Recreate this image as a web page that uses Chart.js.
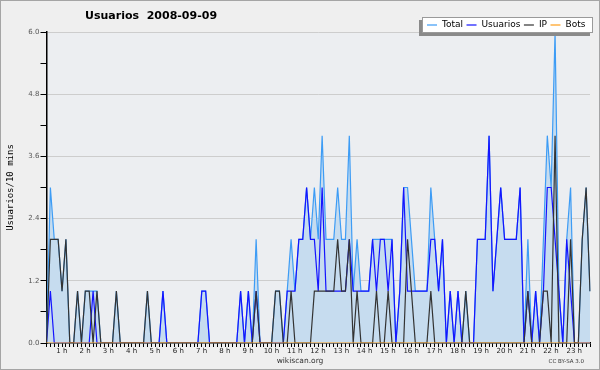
<!DOCTYPE html>
<html>
<head>
<meta charset="utf-8">
<script src="https://cdn.jsdelivr.net/npm/chart.js@4"></script>
<style>
  html, body { margin: 0; padding: 0; background: #efefef; }
  canvas { display: block; }
</style>
</head>
<body>
<canvas id="grafico" width="600" height="370"></canvas>
<script>
// ── DATOS: un punto cada 10 minutos, 00:00 → 23:20 ──
const total = [
  0,3,2,2,1,2,0,0,1,0, 1,1,1,1,0,0,0,0,1,0, 0,0,0,0,0,0,1,0,0,0,
  1,0,0,0,0,0,0,0,0,0, 1,1,0,0,0,0,0,0,0,0, 1,0,1,0,2,0,0,0,0,1,
  1,0,1,2,1,2,2,3,2,3, 2,4,2,2,2,3,2,2,4,1, 2,1,1,1,2,2,2,2,2,2,
  0,1,3,3,2,1,1,1,1,3, 2,1,2,0,1,0,1,0,1,0, 0,2,2,2,4,1,2,3,2,2,
  2,2,3,0,2,0,1,0,2,4, 3,6,1,0,2,3,0,0,2,3, 1
];
const usuarios = [
  0,1,0,0,0,0,0,0,0,0, 0,0,1,0,0,0,0,0,0,0, 0,0,0,0,0,0,0,0,0,0,
  1,0,0,0,0,0,0,0,0,0, 1,1,0,0,0,0,0,0,0,0, 1,0,1,0,1,0,0,0,0,0,
  0,0,1,1,1,2,2,3,2,2, 1,3,1,1,1,1,1,1,2,1, 1,1,1,1,2,1,2,2,1,2,
  0,1,3,1,1,1,1,1,1,2, 2,1,2,0,1,0,1,0,0,0, 0,2,2,2,4,1,2,3,2,2,
  2,2,3,0,1,0,1,0,1,3, 3,2,1,0,2,1,0,0,0,0, 0
];
const ip = [
  0,2,2,2,1,2,0,0,1,0, 1,1,0,1,0,0,0,0,1,0, 0,0,0,0,0,0,1,0,0,0,
  0,0,0,0,0,0,0,0,0,0, 0,0,0,0,0,0,0,0,0,0, 0,0,0,0,1,0,0,0,0,1,
  1,0,0,1,0,0,0,0,0,1, 1,1,1,1,1,2,1,1,2,0, 1,0,0,0,0,1,0,0,1,0,
  0,0,0,2,1,0,0,0,0,1, 0,0,0,0,0,0,0,0,1,0, 0,0,0,0,0,0,0,0,0,0,
  0,0,0,0,1,0,0,0,1,1, 0,4,0,0,0,2,0,0,2,3, 1
];
const bots = [
  0,0,0,0,0,0,0,0,0,0, 0,0,0,0,0,0,0,0,0,0, 0,0,0,0,0,0,0,0,0,0,
  0,0,0,0,0,0,0,0,0,0, 0,0,0,0,0,0,0,0,0,0, 0,0,0,0,0,0,0,0,0,0,
  0,0,0,0,0,0,0,0,0,0, 0,0,0,0,0,0,0,0,0,0, 0,0,0,0,0,0,0,0,0,0,
  0,0,0,0,0,0,0,0,0,0, 0,0,0,0,0,0,0,0,0,0, 0,0,0,0,0,0,0,0,0,0,
  0,0,0,0,0,0,0,0,0,0, 0,0,0,0,0,0,0,0,0,0, 0
];
const etiquetasHoras = ['1 h','2 h','3 h','4 h','5 h','6 h','7 h','8 h','9 h','10 h','11 h','12 h',
  '13 h','14 h','15 h','16 h','17 h','18 h','19 h','20 h','21 h','22 h','23 h'];
const marcasY = [0, 1.2, 2.4, 3.6, 4.8, 6.0];

const categorias = total.map((_, i) => i);
const esMarca = v => marcasY.some(m => Math.abs(m - v) < 1e-6);

// fondo, marco, titulo, leyenda y pie (estilo wikiscan)
const decorado = {
  id: 'decorado',
  beforeDraw(chart) {
    const { ctx, chartArea: a } = chart;
    ctx.save();
    ctx.fillStyle = '#efefef';
    ctx.fillRect(0, 0, 600, 370);
    ctx.fillStyle = '#eceef1';
    ctx.fillRect(a.left, a.top, a.right - a.left, a.bottom - a.top);
    ctx.restore();
  },
  afterDraw(chart) {
    const ctx = chart.ctx;
    ctx.save();
    ctx.strokeStyle = '#a5a5a5'; ctx.lineWidth = 1;
    ctx.strokeRect(0.5, 0.5, 599, 369);
    // titulo
    ctx.fillStyle = '#000';
    ctx.font = 'bold 11px "DejaVu Sans"';
    ctx.textBaseline = 'middle';
    ctx.fillText('Usuarios  2008-09-09', 85, 16);
    // leyenda
    ctx.fillStyle = '#8a8a8a';
    ctx.fillRect(419, 20, 171, 16);
    ctx.fillStyle = '#fff';
    ctx.fillRect(422, 17, 171, 16);
    ctx.strokeStyle = '#9a9a9a';
    ctx.strokeRect(422.5, 17.5, 170, 15);
    ctx.font = '9px "DejaVu Sans"';
    let x = 427;
    [...chart.data.datasets].sort((p, q) => q.order - p.order).forEach(ds => {
      ctx.strokeStyle = ds.borderColor; ctx.lineWidth = 1.2;
      ctx.beginPath(); ctx.moveTo(x, 25); ctx.lineTo(x + 10, 25); ctx.stroke();
      ctx.fillStyle = '#000';
      ctx.fillText(ds.label, x + 15, 25);
      x += 15 + ctx.measureText(ds.label).width + 3.5;
    });
    // pie
    ctx.font = '7.5px "DejaVu Sans"';
    ctx.textAlign = 'center';
    ctx.fillStyle = '#333';
    ctx.fillText('wikiscan.org', 300, 361);
    ctx.font = '5.5px "DejaVu Sans"';
    ctx.textAlign = 'right';
    ctx.fillText('CC BY-SA 3.0', 584, 362);
    ctx.restore();
  }
};

const linea = (label, data, color, order, extra) => Object.assign({
  label, data, order,
  borderColor: color, borderWidth: 1.2,
  pointRadius: 0, tension: 0, fill: false
}, extra || {});

new Chart(document.getElementById('grafico'), {
  type: 'line',
  data: {
    labels: categorias,
    datasets: [
      linea('Total', total, '#3d9cf5', 4, { fill: 'origin', backgroundColor: '#c6dcef' }),
      linea('Usuarios', usuarios, '#1414ff', 3),
      linea('IP', ip, '#333333', 2),
      linea('Bots', bots, '#ff9f1a', 1)
    ]
  },
  options: {
    responsive: false,
    animation: false,
    events: [],
    layout: { padding: { top: 32, right: 10, left: 0, bottom: 0 } },
    plugins: { legend: { display: false }, title: { display: false }, tooltip: { enabled: false } },
    scales: {
      x: {
        type: 'category',
        offset: false,
        z: 1,
        grid: { drawOnChartArea: false, tickLength: 4, tickColor: '#000' },
        border: { color: '#000', width: 1.5 },
        ticks: {
          autoSkip: false, maxRotation: 0, minRotation: 0, padding: 0, labelOffset: -8,
          font: { family: 'DejaVu Sans', size: 7 }, color: '#222',
          callback: (v, i) => (i % 6 === 0 && i > 0) ? etiquetasHoras[i / 6 - 1] : ''
        },
        afterFit: s => { s.height = 27; }
      },
      y: {
        min: 0, max: 6,
        z: 1,
        grid: {
          color: c => (c.tick && c.tick.value > 0 && esMarca(c.tick.value)) ? '#cdcdcd' : 'rgba(0,0,0,0)',
          tickLength: 6, tickColor: '#000'
        },
        border: { color: '#000', width: 1.5 },
        ticks: {
          stepSize: 0.6, padding: 1,
          font: { family: 'DejaVu Sans', size: 7 }, color: '#555',
          callback: v => esMarca(v) ? v.toFixed(1) : ''
        },
        title: {
          display: true, text: 'Usuarios/10 mins', color: '#000',
          font: { family: 'DejaVu Sans Mono', size: 9 }, padding: { top: 5, bottom: 0 }
        },
        afterFit: s => { s.width = 46.5; }
      }
    }
  },
  plugins: [decorado]
});
</script>
</body>
</html>
